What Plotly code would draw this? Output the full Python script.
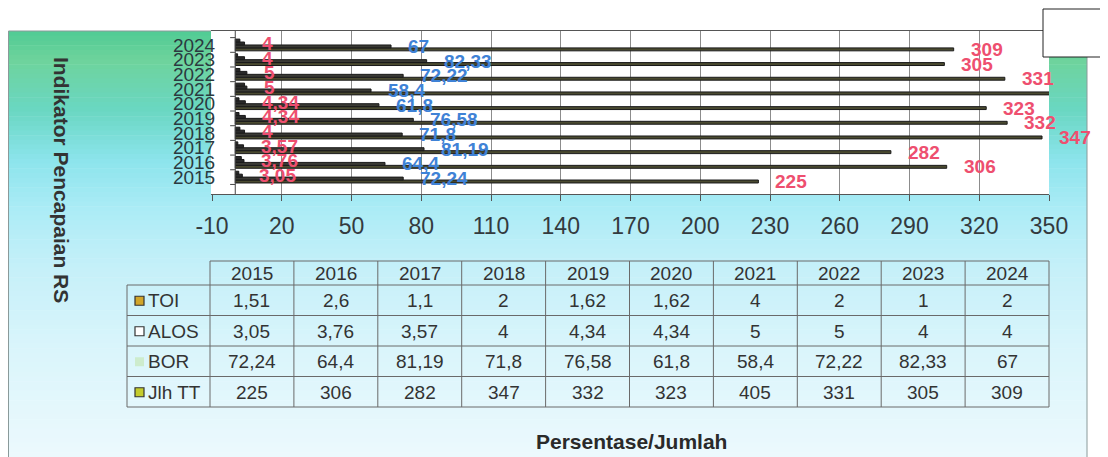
import plotly.graph_objects as go

# ---------------- data ----------------
years = ["2015", "2016", "2017", "2018", "2019", "2020", "2021", "2022", "2023", "2024"]
toi = [1.51, 2.6, 1.1, 2, 1.62, 1.62, 4, 2, 1, 2]
alos = [3.05, 3.76, 3.57, 4, 4.34, 4.34, 5, 5, 4, 4]
bor = [72.24, 64.4, 81.19, 71.8, 76.58, 61.8, 58.4, 72.22, 82.33, 67]
jlh_tt = [225, 306, 282, 347, 332, 323, 405, 331, 305, 309]
series_names = ["TOI", "ALOS", "BOR", "Jlh TT"]
y_title = "Indikator Pencapaian RS"
x_title = "Persentase/Jumlah"

# ---------------- layout constants ----------------
W, H = 1108, 457          # reference picture size
OFF = 8                   # page body margin in the browser
FW, FH = W - OFF, H - OFF  # figure size so that it fits the window
X_MIN, X_MAX, X_DTICK = -10, 350, 30
PLOT_L, PLOT_R, PLOT_T, PLOT_B = 212, 1049, 31, 194
CHART_L, CHART_R, CHART_T = 8.5, 1087, 31
FONT = "Liberation Sans, Arial, sans-serif"


def fx(p):
    return (p - OFF) / FW


def fy(p):
    return 1 - (p - OFF) / FH


def fmt(v):
    return f"{v:g}".replace(".", ",")


series = {"TOI": toi, "ALOS": alos, "BOR": bor, "Jlh TT": jlh_tt}
style = {
    "Jlh TT": dict(fill="#4a4a30", line="#1a1a1a", key_line="#333333", key_fill="#c4cc2c"),
    "BOR": dict(fill="#3a3a34", line="#1a1a1a", key_line=None, key_fill="#cdeccd"),
    "ALOS": dict(fill="#2a2a2a", line="#1a1a1a", key_line="#333333", key_fill="#ffffff"),
    "TOI": dict(fill="#2a2a2a", line="#1a1a1a", key_line="#333333", key_fill="#d2a62a"),
}
label_color = {"ALOS": "#ee4f6f", "BOR": "#3f82d6", "Jlh TT": "#ee4f6f"}

BAR_GAP = 0.2
stack_order = ["Jlh TT", "BOR", "ALOS", "TOI"]  # bottom -> top within a category

fig = go.Figure()
for name in stack_order:
    st = style[name]
    fig.add_trace(go.Bar(
        y=years, x=series[name], name=name, orientation="h",
        marker=dict(color=st["fill"], line=dict(color=st["line"], width=1)),
        hoverinfo="x+name",
    ))

annotations = []
n = len(stack_order)
gw = 1 - BAR_GAP
for k, name in enumerate(stack_order):
    if name not in label_color:
        continue
    off = -gw / 2 + (k + 0.5) * gw / n
    for i, v in enumerate(series[name]):
        if v > X_MAX:
            continue
        annotations.append(dict(
            x=v, y=i + off, xref="x", yref="y", text=fmt(v), showarrow=False,
            xanchor="left", yanchor="middle", xshift=15,
            font=dict(family=FONT, size=19, color=label_color[name], weight="bold"),
        ))

stops = [
    (31, (80, 203, 148)),
    (60, (110, 211, 156)),
    (110, (106, 215, 194)),
    (160, (140, 228, 236)),
    (210, (172, 236, 246)),
    (270, (198, 240, 249)),
    (350, (218, 245, 251)),
    (457, (236, 249, 253)),
]


def grad(yp):
    for (y0, c0), (y1, c1) in zip(stops[:-1], stops[1:]):
        if y0 <= yp <= y1:
            t = (yp - y0) / (y1 - y0)
            return "rgb(%d,%d,%d)" % tuple(round(a + (b - a) * t) for a, b in zip(c0, c1))
    return "rgb(%d,%d,%d)" % stops[-1][1]


shapes = []
NB = 90
band = (H - CHART_T) / NB
for b in range(NB):
    y0 = CHART_T + b * band
    y1 = y0 + band + 0.6
    shapes.append(dict(type="rect", xref="paper", yref="paper", layer="below",
                       x0=fx(CHART_L), x1=fx(CHART_R), y0=fy(min(y1, H)), y1=fy(y0),
                       line=dict(width=0), fillcolor=grad(y0 + band / 2)))
shapes.append(dict(type="rect", xref="paper", yref="paper", layer="below",
                   x0=fx(CHART_L), x1=fx(CHART_R), y0=fy(H + 2), y1=fy(CHART_T),
                   line=dict(color="#8a9a9a", width=1), fillcolor="rgba(0,0,0,0)"))
shapes.append(dict(type="rect", xref="x domain", yref="y domain", layer="below",
                   x0=0, x1=1, y0=0, y1=1, line=dict(width=0), fillcolor="white"))
shapes.append(dict(type="line", xref="x", yref="y domain", x0=0, x1=0, y0=0, y1=1,
                   line=dict(color="#444444", width=1)))
for k in range(len(years) + 1):
    shapes.append(dict(type="line", xref="x", yref="y", x0=0, x1=-2.2,
                       y0=k - 0.5, y1=k - 0.5, line=dict(color="#444444", width=1)))
shapes.append(dict(type="rect", xref="paper", yref="paper", layer="above",
                   x0=fx(1043), x1=fx(1112), y0=fy(57), y1=fy(9),
                   line=dict(color="#222222", width=1), fillcolor="white"))

TBL_L, TBL_C0, TBL_R = 127, 210, 1049
HDR_T, HDR_B, ROW_H = 261, 285, 30.5
cw = (TBL_R - TBL_C0) / len(years)
rows_bottom = HDR_B + ROW_H * len(series_names)
tcol = "#6a6a6a"


def hline(y, x0, x1):
    shapes.append(dict(type="line", xref="paper", yref="paper", x0=fx(x0), x1=fx(x1),
                       y0=fy(y), y1=fy(y), line=dict(color=tcol, width=1)))


def vline(x, y0, y1):
    shapes.append(dict(type="line", xref="paper", yref="paper", x0=fx(x), x1=fx(x),
                       y0=fy(y0), y1=fy(y1), line=dict(color=tcol, width=1)))


hline(HDR_T, TBL_C0, TBL_R)
for r in range(len(series_names) + 1):
    hline(HDR_B + r * ROW_H, TBL_L, TBL_R)
vline(TBL_L, HDR_B, rows_bottom)
for j in range(len(years) + 1):
    vline(TBL_C0 + j * cw, HDR_T, rows_bottom)

tfont = dict(family=FONT, size=19, color="#333333")
for j, yr in enumerate(years):
    annotations.append(dict(xref="paper", yref="paper", x=fx(TBL_C0 + (j + 0.5) * cw),
                            y=fy((HDR_T + HDR_B) / 2 + 0.5), text=yr, showarrow=False,
                            xanchor="center", yanchor="middle", font=tfont))
for r, name in enumerate(series_names):
    yc = HDR_B + (r + 0.5) * ROW_H + 0.5
    annotations.append(dict(xref="paper", yref="paper", x=fx(146), y=fy(yc), text=name,
                            showarrow=False, xanchor="left", yanchor="middle", font=tfont))
    st = style[name]
    shapes.append(dict(type="rect", xref="paper", yref="paper",
                       x0=fx(135), x1=fx(144), y0=fy(yc + 4.5), y1=fy(yc - 4.5),
                       fillcolor=st["key_fill"],
                       line=dict(color=st["key_line"] or "rgba(0,0,0,0)", width=1.2)))
    for j, v in enumerate(series[name]):
        annotations.append(dict(xref="paper", yref="paper", x=fx(TBL_C0 + (j + 0.5) * cw),
                                y=fy(yc), text=fmt(v), showarrow=False,
                                xanchor="center", yanchor="middle", font=tfont))

annotations.append(dict(xref="paper", yref="paper", x=fx(62), y=fy(180), text=y_title,
                        textangle=90, showarrow=False, xanchor="center", yanchor="middle",
                        font=dict(family=FONT, size=21, color="#333333", weight="bold")))
annotations.append(dict(xref="paper", yref="paper", x=fx(631), y=fy(441), text=x_title,
                        showarrow=False, xanchor="center", yanchor="middle",
                        font=dict(family=FONT, size=21, color="#2a2a2a", weight="bold")))

tick_vals = list(range(X_MIN, X_MAX + 1, X_DTICK))
fig.update_layout(
    width=FW, height=FH, autosize=False,
    margin=dict(l=0, r=0, t=0, b=0, autoexpand=False),
    paper_bgcolor="white", plot_bgcolor="white",
    showlegend=False, barmode="group", bargap=BAR_GAP, bargroupgap=0,
    xaxis=dict(domain=[fx(PLOT_L), fx(PLOT_R)], range=[X_MIN, X_MAX],
               tickmode="array", tickvals=tick_vals, ticktext=[str(t) for t in tick_vals],
               showgrid=True, gridcolor="#8c8c8c", gridwidth=1, zeroline=False,
               showline=True, linecolor="#555555", mirror=True, automargin=False,
               ticks="outside", ticklen=6, tickcolor="#555555", ticklabelstandoff=5,
               tickfont=dict(family=FONT, size=23, color="#333a3e")),
    yaxis=dict(domain=[fy(PLOT_B), fy(PLOT_T)], type="category", dtick=1, automargin=False,
               showgrid=False, zeroline=False, showline=True, linecolor="white",
               ticks="", ticklabelstandoff=-8,
               tickfont=dict(family=FONT, size=19, color="#2b3a40")),
    shapes=shapes, annotations=annotations,
)

fig.write_html("out.html")
